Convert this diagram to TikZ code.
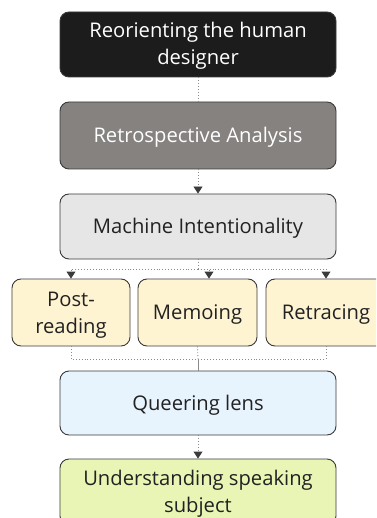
\documentclass[tikz,border=0pt]{standalone}
\usepackage{fontspec}
\setmainfont{Open Sans}
\usetikzlibrary{arrows.meta}
\definecolor{boxline}{HTML}{3A3A3A}
\definecolor{darkfill}{HTML}{1C1C1C}
\definecolor{greyfill}{HTML}{858280}
\definecolor{lightfill}{HTML}{E6E6E6}
\definecolor{creamfill}{HTML}{FFF4D2}
\definecolor{bluefill}{HTML}{E8F4FD}
\definecolor{greenfill}{HTML}{E9F5B5}
\definecolor{linkgrey}{HTML}{8A8A8A}
\definecolor{tipgrey}{HTML}{3A3A3A}
\definecolor{inktext}{HTML}{222222}
\tikzset{
  x=1pt, y=-1pt,
  stage/.style={draw=boxline, line width=0.9pt, rounded corners=9pt,
    minimum width=276pt, minimum height=65pt, align=center,
    text=inktext, font=\fontsize{20.2}{27}\selectfont, inner sep=2pt,
    text height=18pt, text depth=4pt},
  twoline/.style={text height=45pt, text depth=4pt},
  method/.style={stage, minimum width=118pt, minimum height=67pt, text width=112pt},
  twolinewrap/.style={text height=18pt, text depth=31pt},
  link/.style={draw=linkgrey, line width=0.9pt, dotted},
  linkarrow/.style={link, -{Triangle[length=7pt,width=9pt,fill=tipgrey,color=tipgrey]}},
  solidlink/.style={draw=linkgrey, line width=1pt}
}
\begin{document}
\begin{tikzpicture}
\useasboundingbox (0,0) rectangle (376,518);
\begin{scope}
\clip (0,0) rectangle (376,518);

\node[stage, twoline, fill=darkfill, text=white] (reorient) at (198,44.5)
  {Reorienting the human\\designer};
\node[stage, fill=greyfill, text=white, minimum height=67pt] (retro) at (198,135.5)
  {Retrospective Analysis};
\node[stage, fill=lightfill] (machine) at (198,226.5)
  {Machine Intentionality};

\node[method, twolinewrap, fill=creamfill] (post) at (71,312.5) {Post-\\reading};
\node[method, fill=creamfill, minimum width=119pt] (memo) at (197.5,312.5) {Memoing};
\node[method, fill=creamfill, minimum width=120pt] (retrace) at (326,312.5) {Retracing};

\node[stage, fill=bluefill, minimum height=64pt] (queer) at (198,403) {Queering lens};
\node[stage, twoline, fill=greenfill, minimum height=66pt] (speak) at (198,492)
  {Understanding speaking\\subject};

\coordinate (split) at (198,269);
\coordinate (join) at (198,359);

\draw[link] (reorient.south) -- (retro.north);
\draw[linkarrow] (retro.south) -- (machine.north);

\draw[link] (machine.south) -- (split);
\draw[linkarrow] (split) -| (post.north);
\draw[linkarrow] (split) -| ([xshift=11.5pt]memo.north);
\draw[linkarrow] (split) -| (retrace.north);

\draw[link] (post.south) |- (join);
\draw[link] (retrace.south) |- (join);
\draw[link] (memo.south) -- (join);
\draw[solidlink] (join) -- (queer.north);

\draw[linkarrow] (queer.south) -- (speak.north);
\end{scope}
\end{tikzpicture}
\end{document}
